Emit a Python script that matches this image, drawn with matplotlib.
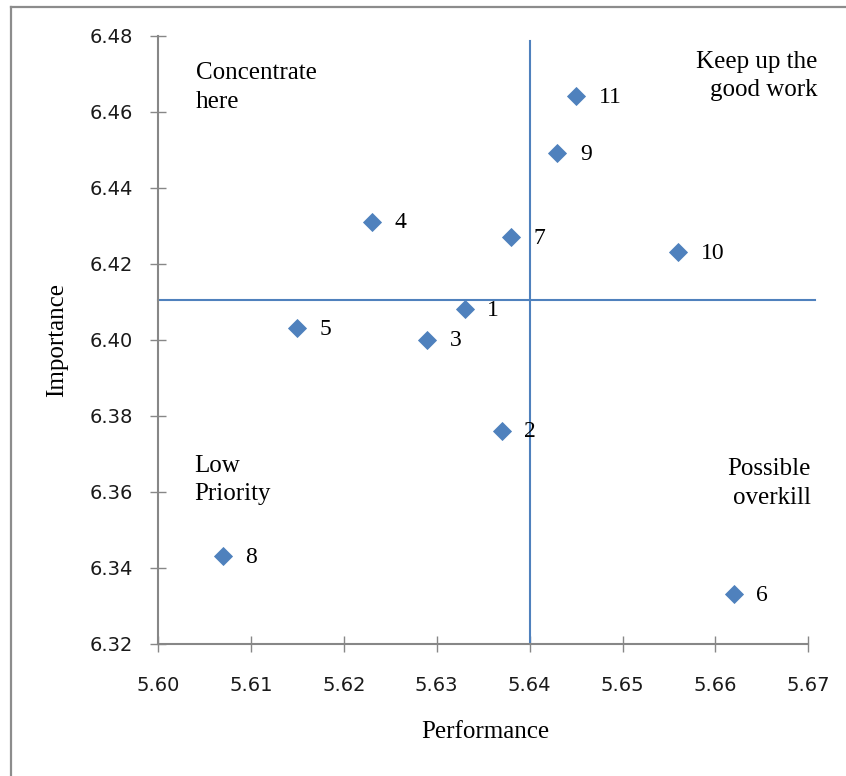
import matplotlib
matplotlib.use("Agg")
import matplotlib.pyplot as plt
from matplotlib.lines import Line2D

# ---- data ----
labels = ["1", "2", "3", "4", "5", "6", "7", "8", "9", "10", "11"]
performance = [5.633, 5.637, 5.629, 5.623, 5.615, 5.662, 5.638, 5.607, 5.643, 5.656, 5.645]
importance = [6.408, 6.376, 6.400, 6.431, 6.403, 6.333, 6.427, 6.343, 6.449, 6.423, 6.464]
x_ticks = [5.60, 5.61, 5.62, 5.63, 5.64, 5.65, 5.66, 5.67]
y_ticks = [6.32, 6.34, 6.36, 6.38, 6.40, 6.42, 6.44, 6.46, 6.48]
perf_cut = 5.640
imp_cut = 6.4105
quadrant_texts = ["Concentrate\nhere", "Keep up the\ngood work", "Low\nPriority", "Possible\noverkill"]

W, H = 846, 776
BLUE = "#4F81BD"
GRAY = "#878787"
SERIF = "Liberation Serif"

fig = plt.figure(figsize=(W / 100, H / 100), dpi=100)
fig.patch.set_facecolor("white")

def fx(p):
    return p / W

def fy(p):
    return 1 - p / H

left, right, top, bottom = 158.0, 808.3, 35.7, 643.5
ax = fig.add_axes([fx(left), fy(bottom), (right - left) / W, (bottom - top) / H])
ax.set_xlim(x_ticks[0], x_ticks[-1])
ax.set_ylim(y_ticks[0], y_ticks[-1])

# quadrant lines
ax.plot([x_ticks[0], 5.6707], [imp_cut, imp_cut], color=BLUE, lw=1.5, clip_on=False, zorder=2)
ax.plot([perf_cut, perf_cut], [y_ticks[0], 6.4785], color=BLUE, lw=1.5, clip_on=False, zorder=2)

# points
ax.plot(performance, importance, linestyle="none", marker="D", ms=8.8,
        color=BLUE, mec=BLUE, mew=0.6, zorder=3, clip_on=False)
for lab, x, y in zip(labels, performance, importance):
    ax.annotate(lab, (x, y), xytext=(16.2, -0.8), textcoords="offset points",
                ha="left", va="center", fontsize=17, family=SERIF, color="black")

# axes styling
for s in ["top", "right"]:
    ax.spines[s].set_visible(False)
for s in ["left", "bottom"]:
    ax.spines[s].set_color(GRAY)
    ax.spines[s].set_linewidth(1.5)
ax.set_xticks(x_ticks)
ax.set_yticks(y_ticks)
ax.set_xticklabels([f"{v:.2f}" for v in x_ticks])
ax.set_yticklabels([f"{v:.2f}" for v in y_ticks])
ax.tick_params(axis="both", direction="inout", length=11.5, width=1, color=GRAY,
               labelsize=14, labelcolor="#1a1a1a")
ax.tick_params(axis="x", pad=18)
ax.tick_params(axis="y", pad=12)
for t in ax.get_xticklabels() + ax.get_yticklabels():
    t.set_family("DejaVu Sans")

# axis titles
fig.text(fx(485), fy(732), "Performance", ha="center", va="center", fontsize=18, family=SERIF)
fig.text(fx(57), fy(340), "Importance", ha="center", va="center", rotation=90, fontsize=18, family=SERIF)

# quadrant texts
fig.text(fx(196), fy(87.5), quadrant_texts[0], ha="left", va="center", multialignment="left",
         fontsize=18, family=SERIF, linespacing=1.4)
fig.text(fx(817), fy(76), quadrant_texts[1], ha="right", va="center", multialignment="right",
         fontsize=18, family=SERIF, linespacing=1.4)
fig.text(fx(194), fy(480), quadrant_texts[2], ha="left", va="center", multialignment="left",
         fontsize=18, family=SERIF, linespacing=1.4)
fig.text(fx(811), fy(483.5), quadrant_texts[3], ha="right", va="center", multialignment="right",
         fontsize=18, family=SERIF, linespacing=1.4)

# outer frame (partially visible)
fig.add_artist(Line2D([fx(11), 1.0], [fy(7), fy(7)], transform=fig.transFigure, color="#8C8C8C", lw=1.6))
fig.add_artist(Line2D([fx(11), fx(11)], [fy(7), 0.0], transform=fig.transFigure, color="#8C8C8C", lw=1.6))

fig.savefig("out.png", dpi=100)
